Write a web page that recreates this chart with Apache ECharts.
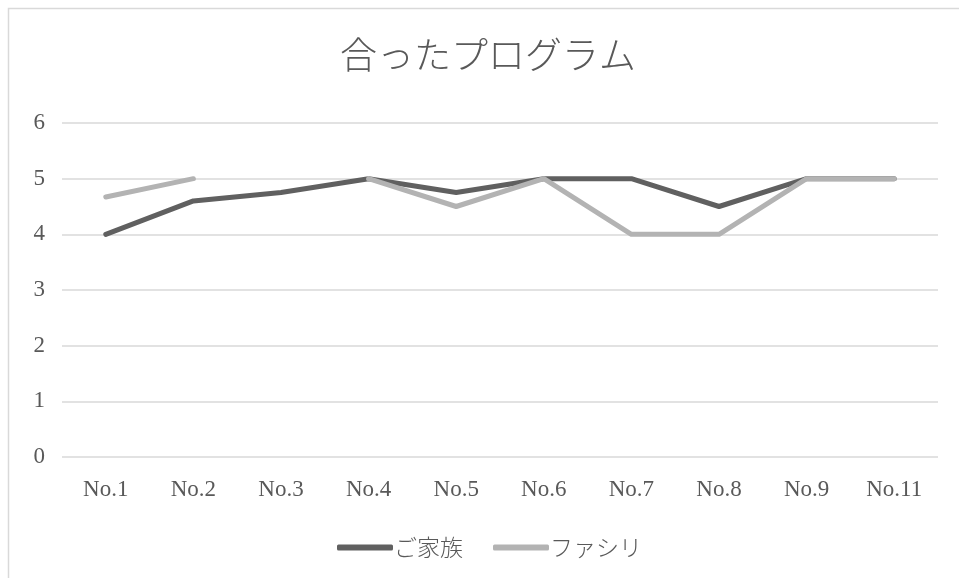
<!DOCTYPE html>
<html>
<head>
<meta charset="utf-8">
<script src="https://cdn.jsdelivr.net/npm/echarts@6/dist/echarts.min.js"></script>
<style>
  html, body { margin: 0; padding: 0; background: #fff; }
  #chart { width: 959px; height: 578px; }
</style>
</head>
<body>
<div id="chart"></div>
<script>
// Program numbers along the x axis
const categories = ['No.1', 'No.2', 'No.3', 'No.4', 'No.5', 'No.6', 'No.7', 'No.8', 'No.9', 'No.11'];
// Average ratings per respondent group (null = no answer)
const familyValues = [4, 4.6, 4.75, 5, 4.75, 5, 5, 4.5, 5, 5];
const facilValues = [4.67, 5, null, 5, 4.5, 5, 4, 4, 5, 5];
const seriesNames = ['ご家族', 'ファシリ'];

const latin = '"Liberation Serif", "DejaVu Serif", "Noto Sans CJK JP", serif';
const jp = '"Noto Sans CJK JP", "Liberation Serif", sans-serif';
const textColor = '#595959';

const chart = echarts.init(document.getElementById('chart'), null, { renderer: 'canvas' });

chart.setOption({
  animation: false,
  backgroundColor: '#ffffff',
  title: {
    text: '合ったプログラム',
    left: 340,
    top: 36,
    padding: 0,
    textStyle: { fontFamily: jp, fontSize: 37, fontWeight: 300, color: textColor }
  },
  graphic: [{
    type: 'rect',
    shape: { x: 8.5, y: 8.5, width: 1000, height: 1000 },
    style: { fill: 'none', stroke: '#d9d9d9', lineWidth: 1.5 },
    silent: true
  }],
  legend: {
    bottom: 14,
    left: 332,
    itemWidth: 56,
    itemHeight: 6,
    itemGap: 30,
    icon: 'roundRect',
    textStyle: { fontFamily: jp, fontSize: 23, color: textColor, fontWeight: 300, padding: [0, 0, 0, -4] },
    data: seriesNames
  },
  grid: { left: 62, right: 21, top: 123, bottom: 121 },
  xAxis: {
    type: 'category',
    data: categories,
    boundaryGap: true,
    axisLine: { show: false },
    axisTick: { show: false },
    axisLabel: { fontFamily: latin, fontSize: 23, color: textColor, margin: 21 }
  },
  yAxis: {
    type: 'value',
    min: 0,
    max: 6,
    interval: 1,
    axisLine: { show: false },
    axisTick: { show: false },
    axisLabel: { fontFamily: latin, fontSize: 23, color: textColor, margin: 17 },
    splitLine: { lineStyle: { color: '#d9d9d9', width: 1.5 } }
  },
  series: [
    {
      name: seriesNames[0],
      type: 'line',
      data: familyValues,
      showSymbol: false,
      symbol: 'none',
      connectNulls: false,
      color: '#606060',
      lineStyle: { width: 5, color: '#606060', cap: 'round', join: 'round' }
    },
    {
      name: seriesNames[1],
      type: 'line',
      data: facilValues,
      showSymbol: false,
      symbol: 'none',
      connectNulls: false,
      color: '#b3b3b3',
      lineStyle: { width: 5, color: '#b3b3b3', cap: 'round', join: 'round' }
    }
  ]
});
</script>
</body>
</html>
